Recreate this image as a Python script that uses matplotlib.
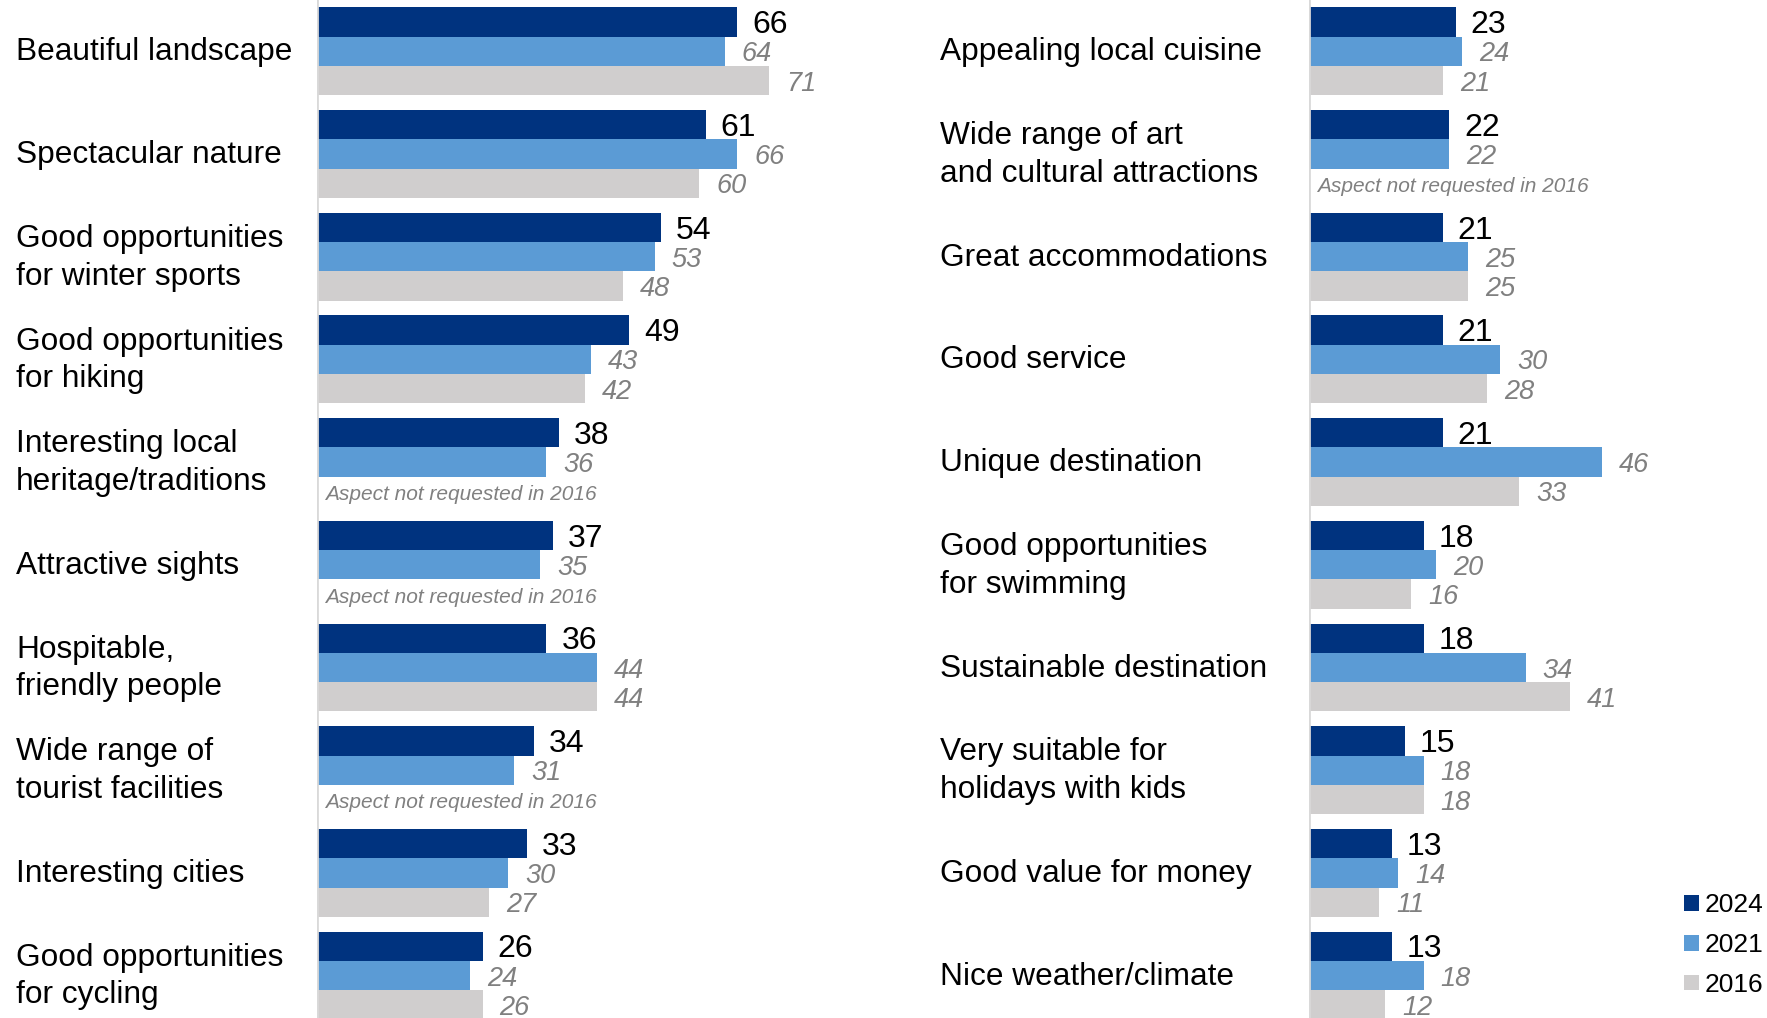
import matplotlib.pyplot as plt
from matplotlib.patches import Patch
from matplotlib.transforms import blended_transform_factory

plt.rcParams['font.family'] = ['Liberation Sans', 'DejaVu Sans']

# survey results, percent of respondents
left_labels = ["Beautiful landscape", "Spectacular nature",
               "Good opportunities\nfor winter sports", "Good opportunities\nfor hiking",
               "Interesting local\nheritage/traditions", "Attractive sights",
               "Hospitable,\nfriendly people", "Wide range of\ntourist facilities",
               "Interesting cities", "Good opportunities\nfor cycling"]
left_2024 = [66, 61, 54, 49, 38, 37, 36, 34, 33, 26]
left_2021 = [64, 66, 53, 43, 36, 35, 44, 31, 30, 24]
left_2016 = [71, 60, 48, 42, None, None, 44, None, 27, 26]

right_labels = ["Appealing local cuisine", "Wide range of art\nand cultural attractions",
                "Great accommodations", "Good service", "Unique destination",
                "Good opportunities\nfor swimming", "Sustainable destination",
                "Very suitable for\nholidays with kids", "Good value for money",
                "Nice weather/climate"]
right_2024 = [23, 22, 21, 21, 21, 18, 18, 15, 13, 13]
right_2021 = [24, 22, 25, 30, 46, 20, 34, 18, 14, 18]
right_2016 = [21, None, 25, 28, 33, 16, 41, 18, 11, 12]

years = ["2024", "2021", "2016"]
colors = ["#00337F", "#5B9BD5", "#D0CECE"]
grey_txt = "#808080"

W, H = 1767, 1018
fig = plt.figure(figsize=(W / 100, H / 100), dpi=100)

bh = 0.285    # bar thickness, one group = 1 unit
dy = 0.03     # nudge text down a little so digits sit on the bar centre
PX = 6.37     # pixels per percentage point


def panel(x0, xmax, label_x, labels, v24, v21, v16):
    ax = fig.add_axes([x0 / W, 0, xmax * PX / W, 1])
    ax.set_xlim(0, xmax)
    ax.set_ylim(9.413, -0.4995)
    ax.axis('off')
    ax.axvline(0, color="#D9D9D9", lw=2)
    tr = blended_transform_factory(fig.transFigure, ax.transData)
    for i in range(len(labels)):
        ax.barh(i - bh, v24[i], height=bh, color=colors[0], lw=0)
        ax.text(v24[i] + 15 / PX, i - bh + dy, str(v24[i]), va='center', ha='left',
                fontsize=23, color='black')
        ax.barh(i, v21[i], height=bh, color=colors[1], lw=0)
        ax.text(v21[i] + 17 / PX, i + dy, str(v21[i]), va='center', ha='left',
                fontsize=19.5, color=grey_txt, style='italic')
        if v16[i] is None:
            ax.text(8 / PX, i + bh + dy, "Aspect not requested in 2016",
                    va='center', ha='left', fontsize=15, color=grey_txt, style='italic')
        else:
            ax.barh(i + bh, v16[i], height=bh, color=colors[2], lw=0)
            ax.text(v16[i] + 17 / PX, i + bh + dy, str(v16[i]), va='center', ha='left',
                    fontsize=19.5, color=grey_txt, style='italic')
        ax.text(label_x / W, i + 0.01, labels[i], transform=tr, va='center', ha='left',
                fontsize=22.8, color='black', linespacing=1.33)
    return ax


panel(317, 80, 16, left_labels, left_2024, left_2021, left_2016)
panel(1309, 60, 940, right_labels, right_2024, right_2021, right_2016)

handles = [Patch(facecolor=c, edgecolor='none') for c in colors]
fig.legend(handles, years, loc='center left', bbox_to_anchor=(1684 / W, 1 - 945 / H),
           frameon=False, fontsize=19, handlelength=0.55, handleheight=0.55,
           handletextpad=0.25, labelspacing=0.6, borderpad=0, borderaxespad=0)

fig.savefig("out.png", dpi=100)
